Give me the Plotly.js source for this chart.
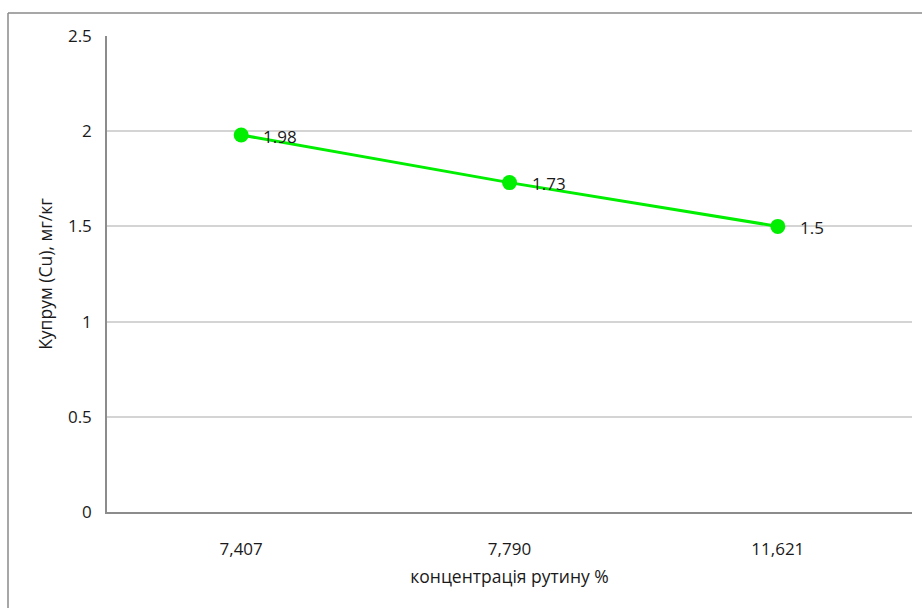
<!DOCTYPE html>
<html>
<head>
<meta charset="utf-8">
<script src="https://cdn.plot.ly/plotly-3.0.1.min.js"></script>
<style>
  html, body { margin: 0; padding: 0; background: #ffffff; }
  #chart { width: 922px; height: 608px; }
</style>
</head>
<body>
<div id="chart"></div>
<script>
// Rutin concentration categories and copper content
const concentrations = ['7,407', '7,790', '11,621'];
const copperValues = [1.98, 1.73, 1.5];
const yTickValues = [0, 0.5, 1, 1.5, 2, 2.5];
const yTickLabels = ['0', '0.5', '1', '1.5', '2', '2.5'];

const W = 922, H = 608;
const M = { l: 107, r: 10, t: 36, b: 96 };
const plotW = W - M.l - M.r;
const plotH = H - M.t - M.b;

// convert a pixel position of the page into paper coordinates
const px = x => (x - M.l) / plotW;
const py = y => 1 - (y - M.t) / plotH;

const fontFamily = '"Open Sans", "Noto Sans", sans-serif';
const textColor = '#1a1a1a';

const trace = {
  type: 'scatter',
  mode: 'lines+markers',
  x: concentrations,
  y: copperValues,
  line: { color: '#00ee00', width: 3 },
  marker: { color: '#00ee00', size: 15 },
  hoverinfo: 'x+y',
  showlegend: false
};

// value labels to the right of each point
const valueLabels = concentrations.map((c, i) => ({
  x: c,
  y: copperValues[i],
  xref: 'x',
  yref: 'y',
  text: String(copperValues[i]),
  showarrow: false,
  xanchor: 'left',
  yanchor: 'middle',
  xshift: 20,
  yshift: -1,
  font: { family: fontFamily, size: 17, color: textColor }
}));

const layout = {
  width: W,
  height: H,
  margin: { l: M.l, r: M.r, t: M.t, b: M.b, pad: 0 },
  paper_bgcolor: '#ffffff',
  plot_bgcolor: '#ffffff',
  font: { family: fontFamily, size: 17, color: textColor },
  xaxis: {
    type: 'category',
    range: [-0.5, 2.5],
    showgrid: false,
    zeroline: false,
    showline: true,
    linecolor: '#8c8c8c',
    linewidth: 1.5,
    ticks: '',
    ticklabelstandoff: 21,
    tickfont: { family: fontFamily, size: 17, color: textColor },
    title: {
      text: 'концентрація рутину %',
      font: { family: fontFamily, size: 17.5, color: textColor },
      standoff: 12
    },
    automargin: false,
    fixedrange: true
  },
  yaxis: {
    range: [0, 2.5],
    tickmode: 'array',
    tickvals: yTickValues,
    ticktext: yTickLabels,
    showgrid: true,
    gridcolor: '#d4d4d4',
    gridwidth: 1.5,
    zeroline: false,
    showline: true,
    linecolor: '#8c8c8c',
    linewidth: 1.5,
    ticks: '',
    ticklabelstandoff: 10,
    tickfont: { family: fontFamily, size: 17, color: textColor },
    title: {
      text: 'Купрум (Cu), мг/кг',
      font: { family: fontFamily, size: 17.5, color: textColor },
      standoff: 11
    },
    automargin: false,
    fixedrange: true
  },
  annotations: valueLabels,
  shapes: [
    // chart frame: top and left edges
    {
      type: 'line', xref: 'paper', yref: 'paper',
      x0: px(8), x1: px(W + 2), y0: py(13), y1: py(13),
      line: { color: '#8a8a8a', width: 1.5 }
    },
    {
      type: 'line', xref: 'paper', yref: 'paper',
      x0: px(8), x1: px(8), y0: py(13), y1: py(H + 2),
      line: { color: '#8a8a8a', width: 1.5 }
    }
  ]
};

Plotly.newPlot('chart', [trace], layout, { displayModeBar: false, staticPlot: false });
</script>
</body>
</html>
